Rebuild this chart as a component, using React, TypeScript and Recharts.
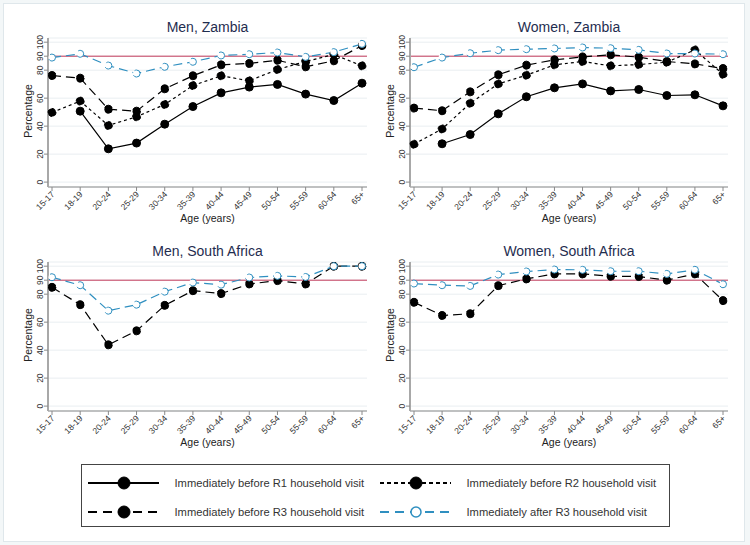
import React from "react";
import { LineChart, Line, XAxis, YAxis, CartesianGrid, ReferenceLine } from "recharts";

const ages = ["15-17", "18-19", "20-24", "25-29", "30-34", "35-39", "40-44", "45-49", "50-54", "55-59", "60-64", "65+"];
const yTicks = [0, 20, 40, 60, 80, 90, 100];

// Men, Zambia
const menZambiaR1 = [null, 50.7, 23.8, 27.9, 41.4, 54, 63.8, 67.9, 69.8, 62.9, 58.3, 70.7];
const menZambiaR2 = [49.8, 57.9, 40.5, 46.7, 55.5, 69, 76, 72.4, 80.5, 86.2, 91.2, 83.1];
const menZambiaR3 = [76.2, 74.3, 52.1, 50.7, 66.7, 76, 83.8, 84.8, 87.1, 82.4, 86.7, 97.6];
const menZambiaAfter = [89, 91.7, 83.3, 77.6, 82.4, 86, 90.5, 91.4, 92.6, 89.5, 92.9, 98.8];

// Women, Zambia
const womenZambiaR1 = [null, 27.4, 34, 48.8, 61, 67.4, 70.2, 65.2, 66.2, 61.9, 62.4, 54.5];
const womenZambiaR2 = [27.1, 38, 56.4, 70.2, 76.4, 83.8, 86.2, 83.1, 84, 85.7, 94.5, 77.1];
const womenZambiaR3 = [52.9, 51, 64.5, 76.7, 83.6, 87.4, 89.5, 91, 89.3, 86.2, 84.5, 81.2];
const womenZambiaAfter = [82.1, 89, 92.1, 94.3, 95, 95.5, 96.2, 95.7, 94.5, 91.9, 91.9, 91.4];

// Men, South Africa
const menSAR3 = [84.9, 72.5, 43.8, 53.8, 72, 82.5, 80.4, 87.3, 89.7, 87.3, 100, 100];
const menSAAfter = [92.1, 86.4, 68.2, 72.5, 81.8, 88.3, 86.8, 91.9, 93.1, 92.3, 100, 100];

// Women, South Africa
const womenSAR3 = [74.2, 64.8, 66, 86.1, 90.9, 94.5, 94.5, 92.8, 92.6, 90, 94.5, 75.4];
const womenSAAfter = [87.6, 86.4, 85.9, 94, 96.2, 97.6, 97.4, 96.4, 96.4, 94.5, 97.4, 87.1];

const FONT = "'Liberation Sans', Arial, sans-serif";
const BLUE = "#2f8fc0";
const RED = "#c43c5c";

type Series = { r1?: (number | null)[]; r2?: (number | null)[]; r3: (number | null)[]; after: (number | null)[] };

const XTick = (props: any) => {
  const { x, y, payload } = props;
  return (
    <text transform={`translate(${x + 3},${y + 2}) rotate(-45)`} textAnchor="end" fontSize={8.5} fill="#333" fontFamily={FONT}>
      {payload.value}
    </text>
  );
};

const YTick = (props: any) => {
  const { x, y, payload } = props;
  return (
    <text transform={`translate(${x + 1},${y}) rotate(-90)`} textAnchor="middle" fontSize={8.5} fill="#333" fontFamily={FONT}>
      {payload.value}
    </text>
  );
};

function Panel({ left, top, width, yw, right, title, s }: { left: number; top: number; width: number; yw: number; right: number; title: string; s: Series }) {
  const data = ages.map((a, i) => ({
    age: a,
    r1: s.r1 ? s.r1[i] : null,
    r2: s.r2 ? s.r2[i] : null,
    r3: s.r3[i],
    after: s.after[i]
  }));
  const plotL = yw;
  const plotR = width - right;
  const cx = (plotL + plotR) / 2;
  return (
    <div style={{ position: "absolute", left, top, width, height: 235, fontFamily: FONT }}>
      <div style={{ position: "absolute", left: cx - 100, width: 200, top: 19, textAlign: "center", fontSize: 14, color: "#1f2d4f" }}>{title}</div>
      <div style={{ position: "absolute", left: cx - 60, width: 120, top: 212, textAlign: "center", fontSize: 10.5, color: "#222" }}>Age (years)</div>
      <div style={{ position: "absolute", left: yw - 20 - 60, width: 120, top: 112 - 7, textAlign: "center", fontSize: 10.5, color: "#222", transform: "rotate(-90deg)" }}>Percentage</div>
      <LineChart width={width} height={235} data={data} margin={{ top: 38, right, left: 0, bottom: 0 }}>
        <CartesianGrid vertical={false} stroke="#e9eef1" />
        <XAxis dataKey="age" height={48} tick={<XTick />} interval={0} padding={{ left: 4, right: 5 }} stroke="#8a8a8a" tickSize={4} tickLine={{ stroke: "#8a8a8a" }} />
        <YAxis width={yw} domain={[-3.5, 103]} ticks={yTicks} interval={0} tick={<YTick />} tickSize={4} axisLine={{ stroke: "#a8a8a8", strokeWidth: 2 }} tickLine={{ stroke: "#8a8a8a" }} allowDataOverflow />
        <ReferenceLine y={90} stroke={RED} strokeWidth={1} />
        {s.r1 && (
          <Line dataKey="r1" stroke="#000" strokeWidth={1.2} dot={{ r: 4, fill: "#000", stroke: "#000", strokeWidth: 1 }} isAnimationActive={false} connectNulls={false} />
        )}
        {s.r2 && (
          <Line dataKey="r2" stroke="#000" strokeWidth={1.2} strokeDasharray="3 3" dot={{ r: 4, fill: "#000", stroke: "#000", strokeWidth: 1 }} isAnimationActive={false} />
        )}
        <Line dataKey="r3" stroke="#000" strokeWidth={1.2} strokeDasharray="9 5" dot={{ r: 4, fill: "#000", stroke: "#000", strokeWidth: 1 }} isAnimationActive={false} />
        <Line dataKey="after" stroke={BLUE} strokeWidth={1.2} strokeDasharray="9 5" dot={{ r: 3.5, fill: "#fff", stroke: BLUE, strokeWidth: 1 }} isAnimationActive={false} />
      </LineChart>
    </div>
  );
}

function Sample({ dash, color, open }: { dash?: string; color: string; open?: boolean }) {
  return (
    <svg width={71} height={14} style={{ display: "block" }}>
      <line x1={0} y1={7} x2={71} y2={7} stroke={color} strokeWidth={2} strokeDasharray={dash} />
      <circle cx={36} cy={7} r={open ? 5 : 6} fill={open ? "#fff" : color} stroke={color} strokeWidth={open ? 1.5 : 1} />
    </svg>
  );
}

const legendItems = [
  { label: "Immediately before R1 household visit", dash: undefined, color: "#000", open: false },
  { label: "Immediately before R2 household visit", dash: "4 3", color: "#000", open: false },
  { label: "Immediately before R3 household visit", dash: "9 6", color: "#000", open: false },
  { label: "Immediately after R3 household visit", dash: "9 6", color: BLUE, open: true }
];

export default function App() {
  return (
    <div style={{ position: "relative", width: 750, height: 545, background: "#f3f7f8", fontFamily: FONT }}>
      <style>{`body{margin:0}`}</style>
      <div style={{ position: "absolute", left: 3, top: 3, width: 742, height: 539, background: "#fff", border: "1px solid #dfe7eb", boxSizing: "border-box" }} />
      <Panel left={0} top={0} width={375} yw={48} right={8} title="Men, Zambia" s={{ r1: menZambiaR1, r2: menZambiaR2, r3: menZambiaR3, after: menZambiaAfter }} />
      <Panel left={375} top={0} width={375} yw={35} right={22} title="Women, Zambia" s={{ r1: womenZambiaR1, r2: womenZambiaR2, r3: womenZambiaR3, after: womenZambiaAfter }} />
      <Panel left={0} top={224} width={375} yw={48} right={8} title="Men, South Africa" s={{ r3: menSAR3, after: menSAAfter }} />
      <Panel left={375} top={224} width={375} yw={35} right={22} title="Women, South Africa" s={{ r3: womenSAR3, after: womenSAAfter }} />
      <div style={{ position: "absolute", left: 81, top: 464, width: 589, height: 63, border: "1.5px solid #444", boxSizing: "border-box", background: "#fff" }}>
        {legendItems.map((it, i) => (
          <div key={i} style={{ position: "absolute", left: i % 2 === 0 ? 5.5 : 297.5, top: i < 2 ? 10.5 : 39.5, height: 14, display: "flex", alignItems: "center", fontSize: 11.2, color: "#333" }}>
            <Sample dash={it.dash} color={it.color} open={it.open} />
            <span style={{ marginLeft: 16 }}>{it.label}</span>
          </div>
        ))}
      </div>
    </div>
  );
}
